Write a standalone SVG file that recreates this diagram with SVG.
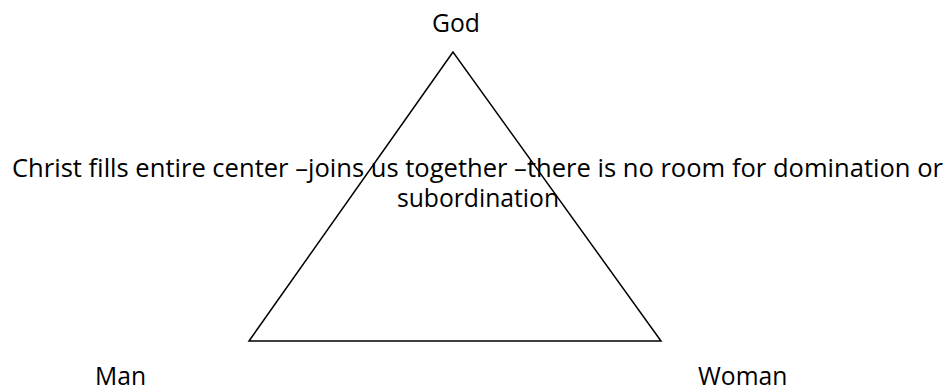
<svg xmlns="http://www.w3.org/2000/svg" width="952" height="392" viewBox="0 0 952 392">
<style>
text{font-family:"Open Sans","Liberation Sans",sans-serif;font-size:24.7px;fill:#000}
.edge{fill:none;stroke:#000;stroke-width:1.5}
</style>
<rect width="952" height="392" fill="#fff"/>
<g id="connectors">
<polygon class="edge" points="453,52 249,341 661,341"/>
</g>
<g id="god"><text x="456" y="32" text-anchor="middle">God</text></g>
<g id="christ">
<text x="12" y="177" textLength="931" lengthAdjust="spacingAndGlyphs">Christ fills entire center –joins us together –there is no room for domination or</text>
<text x="478" y="207" text-anchor="middle">subordination</text>
</g>
<g id="man"><text x="95" y="385">Man</text></g>
<g id="woman"><text x="698" y="385">Woman</text></g>
</svg>
